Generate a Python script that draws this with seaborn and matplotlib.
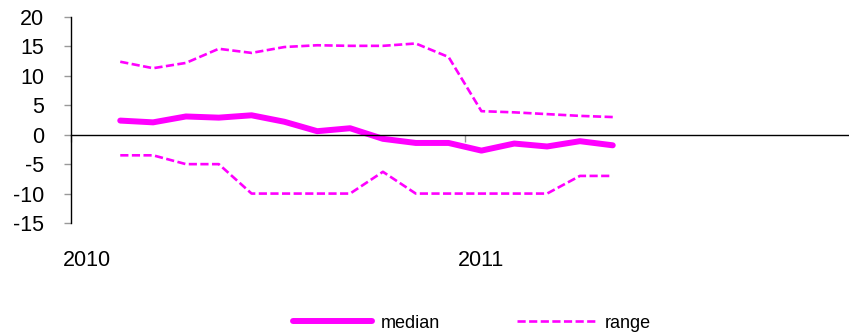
import numpy as np
import pandas as pd
import matplotlib
matplotlib.use("Agg")
import matplotlib.pyplot as plt
import seaborn as sns

# Monthly category axis, Jan 2010 .. Dec 2011
months = [str(p) for p in pd.period_range("2010-01", "2011-12", freq="M")]
year_labels = ["2010", "2011"]

# Observed months and series
obs_months = ["2010-02", "2010-03", "2010-04", "2010-05", "2010-06", "2010-07",
              "2010-08", "2010-09", "2010-10", "2010-11", "2010-12", "2011-01",
              "2011-02", "2011-03", "2011-04", "2011-05"]
median = [2.4, 2.1, 3.1, 2.9, 3.3, 2.2, 0.6, 1.1, -0.7, -1.4, -1.4, -2.7,
          -1.5, -2.0, -1.1, -1.8]
range_high = [12.4, 11.3, 12.2, 14.6, 13.9, 14.9, 15.2, 15.1, 15.1, 15.5, 13.2,
              4.0, 3.8, 3.5, 3.2, 3.0]
range_low = [-3.5, -3.5, -5.0, -5.0, -10.0, -10.0, -10.0, -10.0, -6.3, -10.0,
             -10.0, -10.0, -10.0, -10.0, -7.0, -7.0]

sns.set_style("white")
plt.rcParams["font.family"] = ["Liberation Sans", "DejaVu Sans"]
plt.rcParams["axes.unicode_minus"] = False
plt.rcParams["text.color"] = "black"
plt.rcParams["xtick.color"] = "black"
plt.rcParams["ytick.color"] = "black"

df = pd.DataFrame({
    "month": obs_months,
    "median": median,
    "high": range_high,
    "low": range_low,
})
df["pos"] = [months.index(m) for m in df["month"]]

W, H = 849, 334
fig = plt.figure(figsize=(W / 100, H / 100), dpi=100)
ax = fig.add_axes([71 / W, 1 - 223 / H, 788 / W, 206 / H])

magenta = "#FF00FF"
sns.lineplot(data=df, x="pos", y="median", ax=ax, color=magenta, lw=4.3,
             label="median", solid_capstyle="round")
sns.lineplot(data=df, x="pos", y="high", ax=ax, color=magenta, lw=1.9,
             dashes=(3.1, 1.3), label="range")
sns.lineplot(data=df, x="pos", y="low", ax=ax, color=magenta, lw=1.9,
             dashes=(3.1, 1.3), label="_nolegend_")

ax.set_xlim(-0.5, len(months) - 0.5)
ax.set_ylim(-15, 20)
ax.set_yticks(np.arange(-15, 21, 5))
ax.set_xlabel("")
ax.set_ylabel("")

# x axis drawn through zero; year labels sit under the plot
ax.spines["bottom"].set_position(("data", 0))
ax.spines["top"].set_visible(False)
ax.spines["right"].set_visible(False)
for s in ("left", "bottom"):
    ax.spines[s].set_color("black")
    ax.spines[s].set_linewidth(1.0)

year_pos = [months.index(y + "-01") for y in year_labels]
ax.set_xticks(year_pos)
ax.set_xticklabels(year_labels)
ax.set_xticks([p - 0.5 for p in year_pos] + [len(months) - 0.5], minor=True)
ax.tick_params(axis="x", which="major", bottom=True, length=0, pad=83,
               labelsize=15.5, labelcolor="black")
ax.tick_params(axis="x", which="minor", bottom=True, direction="out",
               length=5, width=1, color="#999999")
ax.tick_params(axis="y", which="major", left=True, direction="out",
               length=5, width=1, color="#999999", pad=14.5, labelsize=15.5,
               labelcolor="black")
ax.grid(False)

ax.legend_.remove()
handles, labels = ax.get_legend_handles_labels()
leg = fig.legend(handles, labels, loc="center", ncol=2,
                 bbox_to_anchor=(472 / W, 1 - 323 / H), frameon=False,
                 fontsize=13, handlelength=4.4, handletextpad=0.45,
                 columnspacing=4.3)
for t in leg.get_texts():
    t.set_color("black")

fig.savefig("out.png", dpi=100)
